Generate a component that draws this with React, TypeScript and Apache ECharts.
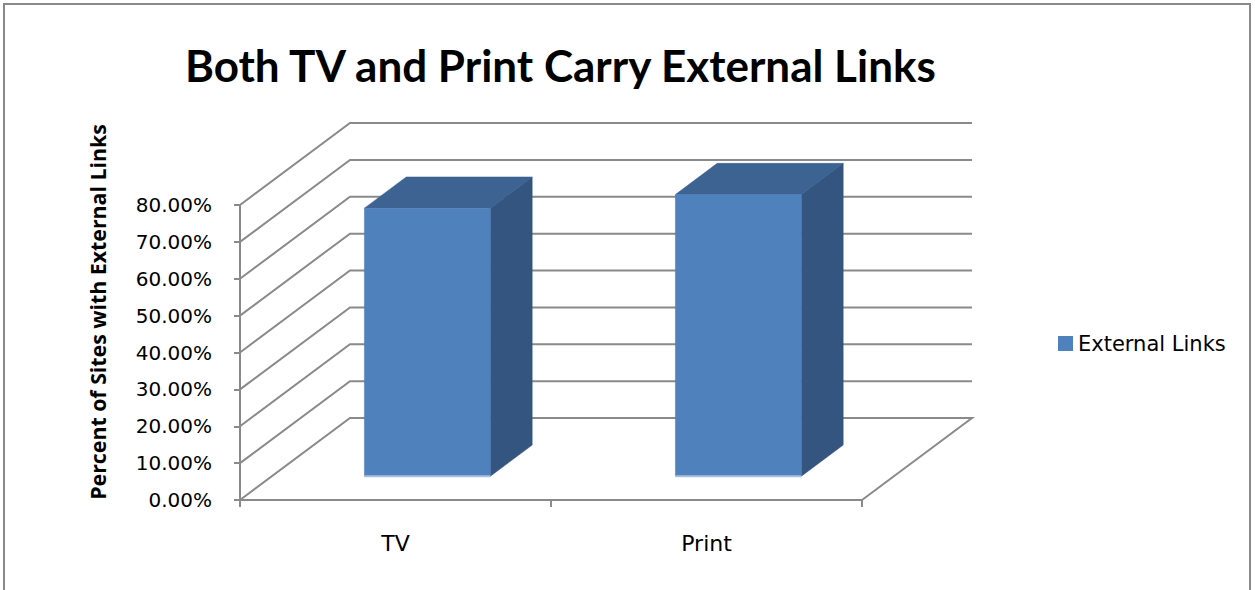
import React, { useEffect, useRef } from "react";
import * as echarts from "echarts";

const categories = ["TV", "Print"];
const externalLinks = [0.727, 0.764];
const gridValues = [0, 0.1, 0.2, 0.3, 0.4, 0.5, 0.6, 0.7, 0.8];
const titleText = "Both TV and Print Carry External Links";
const yAxisTitle = "Percent of Sites with External Links";
const seriesName = "External Links";

const DX = 110;
const DY = 82;
const GRID_COLOR = "#8a8a8a";
const TITLE_FONT = "Lato, 'Open Sans', sans-serif";
const AXIS_TITLE_FONT = "'Open Sans', Lato, sans-serif";
const LABEL_FONT = "'DejaVu Sans', sans-serif";

export default function App() {
  const ref = useRef<HTMLDivElement>(null);
  useEffect(() => {
    const chart = echarts.init(ref.current!, null, { renderer: "svg" });
    const option: any = {
      animation: false,
      backgroundColor: "#ffffff",
      title: {
        text: titleText,
        left: 180,
        top: 38,
        textStyle: { fontFamily: TITLE_FONT, fontWeight: "bold", fontSize: 44, color: "#000" },
      },
      legend: {
        data: [{ name: seriesName, icon: "rect" }],
        left: 1058,
        top: 333,
        padding: 0,
        itemWidth: 15,
        itemHeight: 15,
        itemGap: 6,
        textStyle: { fontFamily: LABEL_FONT, fontSize: 21, color: "#000" },
      },
      grid: { left: 240, right: 393, top: 205, bottom: 90 },
      xAxis: {
        type: "category",
        data: categories,
        boundaryGap: true,
        axisLine: { lineStyle: { color: GRID_COLOR, width: 2 } },
        axisTick: { show: true, alignWithLabel: false, length: 7, lineStyle: { color: GRID_COLOR, width: 2 } },
        axisLabel: { margin: 32, fontFamily: LABEL_FONT, fontSize: 22, color: "#000" },
        splitLine: { show: false },
      },
      yAxis: {
        type: "value",
        min: 0,
        max: 0.8,
        interval: 0.1,
        axisLine: { show: true, lineStyle: { color: GRID_COLOR, width: 2 } },
        axisTick: { show: true, length: 6, lineStyle: { color: GRID_COLOR, width: 2 } },
        axisLabel: {
          margin: 28,
          fontFamily: LABEL_FONT,
          fontSize: 20,
          color: "#000",
          formatter: (v: number) => (v * 100).toFixed(2) + "%",
        },
        splitLine: { show: false },
      },
      graphic: [
        {
          type: "rect",
          shape: { x: 4, y: 4, width: 1246, height: 640 },
          style: { fill: "none", stroke: "#8a8a8a", lineWidth: 2 },
          silent: true,
        },
        {
          type: "text",
          x: 97,
          y: 312,
          rotation: Math.PI / 2,
          style: {
            text: yAxisTitle,
            fontFamily: AXIS_TITLE_FONT,
            fontWeight: "bold",
            fontSize: 21.3,
            fill: "#000",
            align: "center",
            verticalAlign: "middle",
          },
        },
      ],
      series: [
        {
          type: "custom",
          name: "walls",
          z: 1,
          silent: true,
          data: gridValues.map((v) => [0, v]),
          encode: { x: 0, y: 1 },
          renderItem: (params: any, api: any) => {
            const cs = params.coordSys;
            const v = api.value(1);
            const y = api.coord([0, v])[1];
            const x0 = cs.x;
            const x1 = cs.x + cs.width;
            const pts: number[][] = [
              [x0, y],
              [x0 + DX, y - DY],
              [x1 + DX, y - DY],
            ];
            if (v === 0) pts.push([x1, y]);
            return {
              type: "polyline",
              shape: { points: pts },
              style: { stroke: GRID_COLOR, lineWidth: 2, fill: "none" },
            };
          },
        },
        {
          type: "custom",
          name: seriesName,
          z: 5,
          itemStyle: { color: "#4F81BD" },
          data: externalLinks.map((v, i) => [i, v]),
          encode: { x: 0, y: 1 },
          renderItem: (params: any, api: any) => {
            const idx = api.value(0);
            const val = api.value(1);
            const c0 = api.coord([idx, 0]);
            const cv = api.coord([idx, val]);
            const band = api.size([1, 0])[0];
            const w = band * 0.405;
            const fx = DX * 0.29, fy = DY * 0.29;
            const dx = DX * 0.38, dy = DY * 0.38;
            const x1 = c0[0] - w / 2 + fx;
            const x2 = c0[0] + w / 2 + fx;
            const top = cv[1] - fy;
            const bot = c0[1] - fy;
            return {
              type: "group",
              children: [
                {
                  type: "polygon",
                  shape: { points: [[x2, top], [x2 + dx, top - dy], [x2 + dx, bot - dy], [x2, bot]] },
                  style: { fill: "#335580", stroke: "#2f4f78", lineWidth: 0.5 },
                },
                {
                  type: "polygon",
                  shape: { points: [[x1, top], [x1 + dx, top - dy], [x2 + dx, top - dy], [x2, top]] },
                  style: { fill: "#3c6391", stroke: "#385d8a", lineWidth: 0.5 },
                },
                {
                  type: "polygon",
                  shape: { points: [[x1, top], [x2, top], [x2, bot], [x1, bot]] },
                  style: { fill: "#4F81BD", stroke: "#4a79b2", lineWidth: 0.5 },
                },
                {
                  type: "line",
                  shape: { x1: x1, y1: bot, x2: x2, y2: bot },
                  style: { stroke: "#a9c1df", lineWidth: 2 },
                },
              ],
            };
          },
        },
      ],
    };
    chart.setOption(option);
    return () => chart.dispose();
  }, []);
  return (
    <div
      ref={ref}
      style={{ position: "fixed", left: 0, top: 0, width: 1255, height: 590 }}
    />
  );
}
